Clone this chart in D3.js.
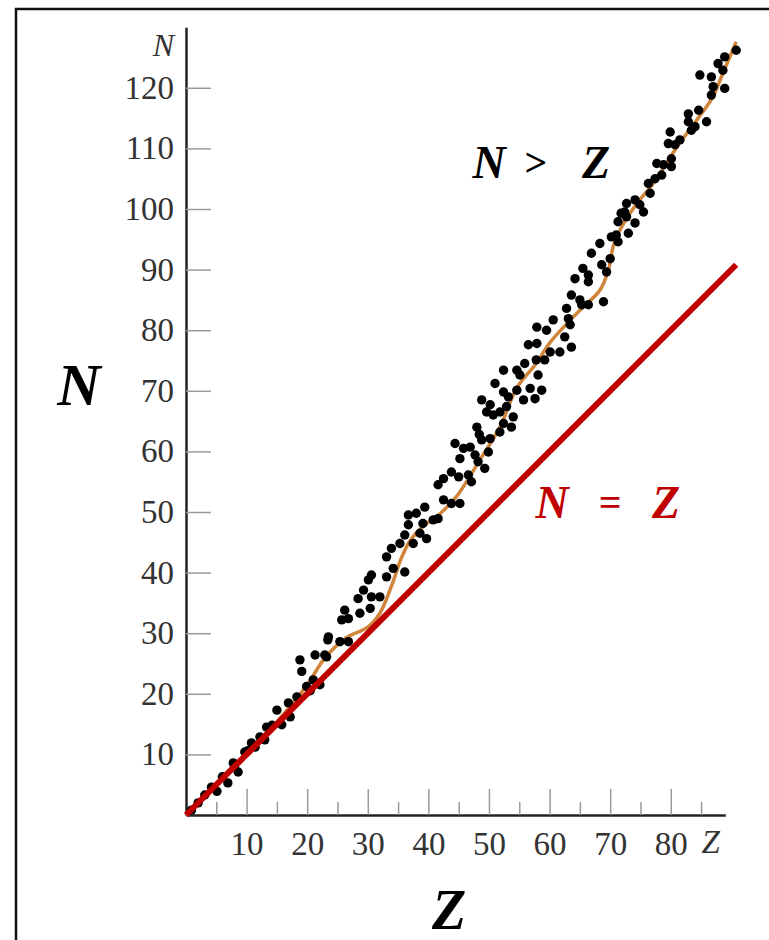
<!DOCTYPE html>
<html>
<head>
<meta charset="utf-8">
<script src="https://cdn.jsdelivr.net/npm/d3@7"></script>
<style>
  body { margin: 0; background: #fff; }
  svg { display: block; }
  .tick text { font-family: "Liberation Serif", serif; fill: #333; }
</style>
</head>
<body>
<svg id="chart" width="769" height="940"></svg>
<script>
// stable nuclides (Z = protons, N = neutrons)
var zValues = [0.9,2,3.1,4.2,5.1,6,6.9,7.8,8,8.6,9.7,10.2,10.8,11.4,12.2,13,13.3,14.2,15,15.8,16.9,17.2,18.3,18.8,19.1,19.9,20.5,21,21.3,22.1,22.9,23.4,
  23.2,23.5,25.4,26.8,25.7,26.8,26.2,28.7,28.4,30.4,29.3,30.1,30.6,30.6,32,33.1,34.2,36.1,33.1,33.9,35.3,36.1,36.7,37.5,36.7,38,39.4,38.6,39.7,39.1,40.8,
  41.6,42.5,43.8,45.2,41.6,42.5,43.8,45,46.6,47.1,49.3,44.4,45.8,45.2,46.9,47.7,48.2,48.8,49.9,48,48.4,50.2,51.8,48.8,50.2,49.6,50.7,51.8,52.9,52.4,53.7,54,51,52.4,53.2,54.6,55.7,56.8,57.6,58.7,52.4,54.6,55.1,55.9,58.1,57.8,59.2,
  56.5,57.9,60.1,61.7,63.6,62.5,57.9,59.5,60.6,63.4,63.1,62.8,63.6,65,65.3,66.4,68.9,64.2,65.5,66.4,66.4,66.9,68.3,68.6,69.4,70,70.2,71,71.3,71.3,72.7,73,71.8,72.7,74.1,
  72.4,74.1,74.9,75.5,76.6,76.3,77.4,78.5,77.7,78.8,80.1,80.1,79.6,80.7,81.5,79.9,82.9,83.4,84,84.6,85.9,82.9,84.8,86.7,87,86.7,88.9,88.6,87.8,88.9,90.8];
var nValues = [0.8,2,3.3,4.6,3.9,6.3,5.3,8.6,8,7.1,10.4,10.6,11.9,11.2,12.9,12.4,14.5,14.8,17.3,14.9,18.5,16.2,19.5,25.6,23.7,21.2,20.5,22.3,26.4,21.5,26.4,28.9,
  26.1,29.4,28.6,28.6,32.2,32.4,33.8,33.3,35.7,34.1,37.1,38.8,39.6,36,36,39.3,40.7,40.1,42.6,44,44.8,46.2,47.9,44.8,49.5,49.8,50.8,46.5,45.6,48.1,48.7,
  48.9,52,51.4,51.4,54.5,55.5,56.6,55.8,56.1,55,57.2,61.3,60.5,58.8,60.7,59.4,58.3,61.9,59.9,64,62.8,62.1,63.2,68.5,67.7,66.5,66,66.5,67.4,64.6,64,65.7,71.2,69.8,69,70.1,68.5,70.4,68.7,70.1,73.4,73.4,72.6,74.5,72.6,75.1,75.1,
  77.6,77.8,76.4,76.4,77.2,78.9,80.5,80,81.7,80.9,81.9,83.6,85.8,85,84.2,84.2,84.7,88.5,90.2,89.1,88,92.7,94.3,90.8,89.6,91.8,95.4,95.7,94.6,97.9,98.7,96,99.3,100.9,97.7,
  99.5,101.5,100.7,99.5,102.6,104.2,105,105.6,107.5,107.3,107,108.3,110.8,110.6,111.4,112.7,114.4,113,113.6,116.3,114.4,115.7,122.1,121.8,120.2,118.8,119.9,122.9,124,125.1,126.2];

// line of stability, traced
var curveZ = [0,10,16,20,23,26.5,30,32,34,35.5,37,39,42,44.6,48.5,51.8,54.6,57.8,60.1,65,68.3,69.7,70.5,71.6,74.4,77.1,81,84.3,87,88.6,90.8];
var curveN = [0,10,16.5,21.5,26,29.3,31,33.3,38,42.3,45.3,47.5,49.8,52.5,58.6,64,70.5,74.5,78,83.3,86.6,89.9,93.8,96.5,100.9,104.2,110.2,114.7,118.6,122.4,127.6];

// N = Z reference
var equalZ = [0, 90.8];

var xMajor = [10,20,30,40,50,60,70,80];
var xMinor = [5,15,25,35,45,55,65,75,85];
var yTicks = [10,20,30,40,50,60,70,80,90,100,110,120];

var svg = d3.select("#chart");

// frame
svg.append("rect")
  .attr("x", 16).attr("y", 9)
  .attr("width", 800).attr("height", 1000)
  .attr("fill", "none").attr("stroke", "#111").attr("stroke-width", 2.5);

var x = d3.scaleLinear().domain([0, 89]).range([186, 725.3]);
var y = d3.scaleLinear().domain([0, 130]).range([815, 27.2]);

// x axis: major + minor ticks pointing up
var gx = svg.append("g").attr("transform", "translate(0,815)");
gx.call(d3.axisBottom(x).tickValues(xMajor).tickSizeInner(-26).tickSizeOuter(0).tickPadding(17));
gx.selectAll(".tick text").style("font-size", "33px");
gx.selectAll(".tick line").attr("stroke", "#999").attr("stroke-width", 1.5);
gx.select(".domain").attr("stroke", "#222").attr("stroke-width", 2.5);

var gxm = svg.append("g").attr("transform", "translate(0,815)");
gxm.call(d3.axisBottom(x).tickValues(xMinor).tickSizeInner(-13).tickSizeOuter(0).tickFormat(""));
gxm.select(".domain").remove();
gxm.selectAll(".tick line").attr("stroke", "#999").attr("stroke-width", 1.5);

// y axis: ticks pointing right
var gy = svg.append("g").attr("transform", "translate(186,0)");
gy.call(d3.axisLeft(y).tickValues(yTicks).tickSizeInner(-25).tickSizeOuter(0).tickPadding(12));
gy.selectAll(".tick text").style("font-size", "33px");
gy.selectAll(".tick line").attr("stroke", "#999").attr("stroke-width", 1.5);
gy.select(".domain").attr("stroke", "#222").attr("stroke-width", 2.5);

// small axis letters
svg.append("text").attr("x", x(86.6)).attr("y", 853)
  .attr("text-anchor", "middle")
  .style("font-family", "Liberation Serif, serif").style("font-style", "italic")
  .style("font-size", "33px").attr("fill", "#333").text("Z");
svg.append("text").attr("x", 174).attr("y", 56)
  .attr("text-anchor", "end")
  .style("font-family", "Liberation Serif, serif").style("font-style", "italic")
  .style("font-size", "32px").attr("fill", "#333").text("N");

// stability curve
var pts = curveZ.map(function(z, i){ return [z, curveN[i]]; });
var line = d3.line()
  .x(function(d){ return x(d[0]); })
  .y(function(d){ return y(d[1]); })
  .curve(d3.curveCatmullRom.alpha(0.5));
svg.append("path")
  .datum(pts)
  .attr("d", line)
  .attr("fill", "none")
  .attr("stroke", "#cf843a")
  .attr("stroke-width", 3.5);

// dots
var dots = zValues.map(function(z, i){ return {z: z, n: nValues[i]}; });
svg.append("g").selectAll("circle")
  .data(dots)
  .enter().append("circle")
  .attr("cx", function(d){ return x(d.z); })
  .attr("cy", function(d){ return y(d.n); })
  .attr("r", 4.7)
  .attr("fill", "#000");

// N = Z line
svg.append("path")
  .datum(equalZ.map(function(v){ return [v, v]; }))
  .attr("d", d3.line().x(function(d){ return x(d[0]); }).y(function(d){ return y(d[1]); }))
  .attr("stroke", "#c00000")
  .attr("stroke-width", 6)
  .attr("fill", "none");

// big labels
function bigText(txt, px, py, size, color){
  svg.append("text").attr("x", px).attr("y", py)
    .attr("text-anchor", "middle")
    .style("font-family", "Liberation Serif, serif")
    .style("font-style", "italic").style("font-weight", "bold")
    .style("font-size", size + "px")
    .attr("fill", color).text(txt);
}
bigText("N", 79, 405, 60, "#000");
bigText("Z", 449, 929, 56, "#000");

bigText("N", 489, 178, 46, "#000");
bigText(">", 535, 176, 40, "#000");
bigText("Z", 596, 178, 46, "#000");

bigText("N", 552, 518, 46, "#c00000");
bigText("=", 610, 516, 40, "#c00000");
bigText("Z", 666, 518, 46, "#c00000");
</script>
</body>
</html>
